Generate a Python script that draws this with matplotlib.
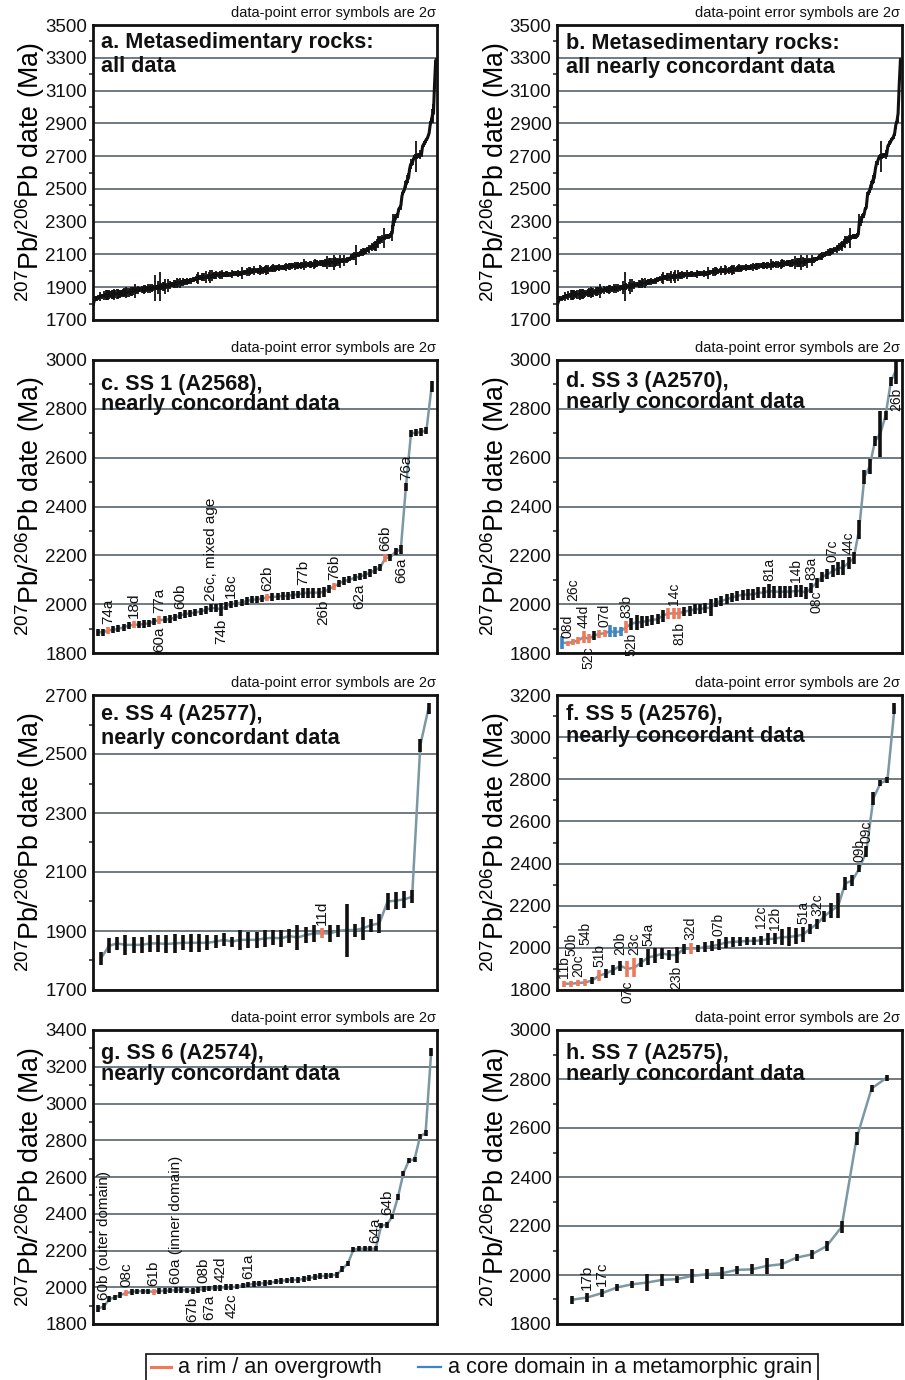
import numpy as np
import matplotlib
matplotlib.use("Agg")
import matplotlib.pyplot as plt
from matplotlib.patches import Rectangle
from matplotlib.ticker import FixedLocator

plt.rcParams.update({
    "font.family": ["Liberation Sans", "DejaVu Sans"],
    "mathtext.fontset": "custom",
    "mathtext.rm": "Liberation Sans",
    "mathtext.it": "Liberation Sans:italic",
    "mathtext.bf": "Liberation Sans:bold",
})

# -----------------------------
# Palette
# -----------------------------
INK = "#111111"
RIM = "#F2785A"
CORE = "#3D85C6"
LINK = "#7B98A3"
GRID = "#56646D"

# -----------------------------
# Data: ranked 207Pb/206Pb dates (Ma) and 2-sigma half-widths
# -----------------------------
# SS 1 (A2568)
ss1_dates = [1885, 1885, 1892, 1895, 1899, 1905, 1912, 1916, 1916, 1919,
             1922, 1930, 1935, 1936, 1939, 1945, 1953, 1960, 1962, 1966,
             1970, 1976, 1984, 1984, 1978, 1993, 2000, 2003, 2007, 2013,
             2018, 2020, 2023, 2027, 2030, 2031, 2034, 2034, 2038, 2040,
             2045, 2047, 2047, 2047, 2050, 2062, 2072, 2085, 2095, 2100,
             2108, 2113, 2120, 2128, 2140, 2150, 2189, 2192, 2216, 2223,
             2480, 2700, 2702, 2705, 2712, 2890]
ss1_errs = [15, 15, 15, 15, 15, 15, 15, 15, 15, 15,
            15, 15, 15, 15, 15, 15, 15, 15, 15, 15,
            15, 15, 15, 15, 25, 15, 15, 15, 15, 15,
            15, 15, 15, 15, 15, 15, 15, 15, 15, 15,
            20, 20, 20, 20, 20, 15, 15, 15, 15, 15,
            15, 15, 15, 15, 15, 15, 18, 15, 15, 18,
            15, 15, 15, 15, 15, 22]
ss1_rims = [2, 7, 12, 33, 46, 56]
ss1_cores = []
ss1_labels = [(2, "74a", "up"), (7, "18d", "up"), (12, "77a", "up"), (12, "60a", "down"),
              (16, "60b", "up"), (22, "26c, mixed age", "up"), (24, "74b", "down"),
              (26, "18c", "up"), (33, "62b", "up"), (40, "77b", "up"), (44, "26b", "down"),
              (46, "76b", "up"), (51, "62a", "down"), (56, "66b", "up"), (59, "66a", "down"),
              (60, "76a", "up")]

# SS 3 (A2570)
ss3_dates = [1843, 1840, 1845, 1851, 1865, 1858, 1872, 1878, 1881, 1889,
             1885, 1889, 1905, 1919, 1926, 1926, 1932, 1935, 1939, 1953,
             1962, 1962, 1962, 1970, 1973, 1980, 1980, 1984, 1986, 2007,
             2013, 2020, 2027, 2034, 2038, 2040, 2040, 2047, 2047, 2054,
             2051, 2051, 2051, 2051, 2054, 2054, 2047, 2067, 2088, 2111,
             2122, 2135, 2146, 2151, 2169, 2189, 2306, 2521, 2565, 2668,
             2698, 2773, 2913, 2960]
ss3_errs = [25, 10, 12, 15, 25, 18, 20, 15, 15, 25,
            20, 18, 25, 25, 30, 25, 20, 20, 20, 25,
            22, 22, 22, 20, 20, 20, 20, 22, 35, 20,
            20, 20, 20, 20, 22, 22, 22, 22, 22, 30,
            25, 25, 25, 25, 25, 25, 25, 20, 20, 20,
            20, 25, 25, 30, 25, 25, 40, 30, 30, 20,
            95, 20, 18, 60]
ss3_rims = [1, 2, 3, 4, 5, 7, 8, 12, 20, 21, 22]
ss3_cores = [0, 9, 10, 11]
ss3_labels = [(1, "08d", "up"), (2, "26c", "up"), (4, "44d", "up"), (5, "52c", "down"),
              (8, "07d", "up"), (12, "83b", "up"), (13, "52b", "down"), (21, "14c", "up"),
              (22, "81b", "down"), (39, "81a", "up"), (44, "14b", "up"), (47, "83a", "up"),
              (48, "08c", "down"), (51, "07c", "up"), (54, "44c", "up"), (63, "26b", "down")]

# SS 4 (A2577)
ss4_dates = [1807, 1850, 1858, 1853, 1853, 1853, 1858, 1858, 1856, 1858,
             1860, 1860, 1860, 1860, 1864, 1870, 1864, 1870, 1870, 1870,
             1875, 1877, 1875, 1883, 1878, 1886, 1892, 1892, 1892, 1901,
             1903, 1903, 1909, 1920, 1926, 2000, 2003, 2007, 2016, 2530,
             2655]
ss4_errs = [22, 25, 22, 33, 28, 28, 28, 28, 30, 33,
            25, 30, 30, 25, 22, 22, 17, 33, 28, 28,
            28, 25, 28, 25, 42, 28, 28, 17, 28, 20,
            90, 22, 40, 22, 33, 28, 30, 30, 22, 22,
            18]
ss4_rims = [27]
ss4_cores = []
ss4_labels = [(27, "11d", "up")]

# SS 5 (A2576)
ss5_dates = [1830, 1830, 1833, 1836, 1845, 1868, 1879, 1895, 1915, 1900,
             1906, 1931, 1955, 1962, 1973, 1966, 1966, 1994, 1997, 1997,
             2003, 2008, 2015, 2025, 2028, 2030, 2033, 2033, 2035, 2041,
             2044, 2050, 2052, 2056, 2063, 2090, 2114, 2150, 2176, 2200,
             2306, 2319, 2377, 2457, 2710, 2781, 2797, 3137]
ss5_errs = [15, 15, 15, 15, 15, 25, 22, 22, 25, 40,
            45, 20, 38, 35, 25, 25, 38, 25, 25, 18,
            25, 25, 25, 25, 22, 20, 20, 20, 20, 28,
            28, 38, 45, 40, 35, 25, 25, 25, 35, 60,
            30, 25, 15, 25, 30, 15, 15, 25]
ss5_rims = [0, 1, 2, 3, 5, 9, 10, 18]
ss5_cores = []
ss5_labels = [(0, "11b", "up"), (1, "50b", "up"), (2, "20c", "up"), (3, "54b", "up"),
              (5, "51b", "up"), (8, "20b", "up"), (9, "07c", "down"), (10, "23c", "up"),
              (12, "54a", "up"), (16, "23b", "down"), (18, "32d", "up"), (22, "07b", "up"),
              (28, "12c", "up"), (30, "12b", "up"), (34, "51a", "up"), (36, "32c", "up"),
              (42, "09b", "up"), (43, "09c", "up")]

# SS 6 (A2574)
ss6_dates = [1885, 1895, 1935, 1945, 1958, 1968, 1975, 1978, 1978, 1978,
             1975, 1980, 1980, 1982, 1985, 1985, 1982, 1980, 1985, 1990,
             1992, 1995, 1997, 2000, 2000, 2003, 2010, 2015, 2017, 2020,
             2022, 2025, 2030, 2035, 2038, 2040, 2040, 2045, 2050, 2055,
             2060, 2062, 2065, 2068, 2100, 2130, 2205, 2210, 2210, 2210,
             2210, 2335, 2340, 2385, 2490, 2620, 2690, 2695, 2820, 2840,
             3280]
ss6_errs = [18, 18, 15, 15, 15, 15, 15, 15, 15, 15,
            18, 15, 15, 15, 15, 15, 15, 15, 15, 15,
            15, 15, 15, 15, 15, 15, 15, 15, 15, 15,
            15, 15, 15, 15, 15, 15, 15, 15, 15, 15,
            15, 15, 15, 15, 15, 15, 15, 15, 15, 15,
            15, 15, 15, 15, 15, 15, 15, 15, 15, 15,
            20]
ss6_rims = [5, 10]
ss6_cores = []
ss6_labels = [(1, "60b (outer domain)", "up"), (5, "08c", "up"), (10, "61b", "up"),
              (14, "60a (inner domain)", "up"), (17, "67b", "down"), (19, "08b", "up"),
              (20, "67a", "down"), (22, "42d", "up"), (24, "42c", "down"), (27, "61a", "up"),
              (50, "64a", "up"), (52, "64b", "up")]

# SS 7 (A2575)
ss7_dates = [1899, 1908, 1926, 1949, 1962, 1969, 1980, 1983, 1996, 2003,
             2007, 2021, 2023, 2037, 2044, 2071, 2084, 2118, 2196, 2558,
             2761, 2805]
ss7_errs = [16, 20, 17, 14, 14, 34, 24, 14, 27, 20,
            24, 17, 20, 34, 20, 14, 20, 20, 24, 27,
            14, 12]
ss7_rims = []
ss7_cores = []
ss7_labels = [(1, "17b", "up"), (2, "17c", "up")]

# discordant analyses that appear only in panel a
disc_dates = [1860, 1895, 1905, 1930, 1975, 2000, 2030, 2055, 2095, 2150,
              2230, 2400, 2650, 2950]
disc_errs = [25, 80, 25, 25, 25, 20, 25, 25, 60, 30,
             50, 30, 30, 40]

# -----------------------------
# Pooled sets for panels a and b
# -----------------------------
pool_dates = np.concatenate([ss1_dates, ss3_dates, ss4_dates, ss5_dates, ss6_dates, ss7_dates])
pool_errs = np.concatenate([ss1_errs, ss3_errs, ss4_errs, ss5_errs, ss6_errs, ss7_errs])
order = np.argsort(pool_dates, kind="stable")
conc_dates, conc_errs = pool_dates[order], pool_errs[order]

all_dates = np.concatenate([pool_dates, disc_dates])
all_errs = np.concatenate([pool_errs, disc_errs])
order = np.argsort(all_dates, kind="stable")
all_dates, all_errs = all_dates[order], all_errs[order]

# label stagger (Ma) where sample labels crowd each other
NUDGE = {("d", "26c"): 145,
         ("f", "50b"): 100, ("f", "54b"): 150, ("f", "20b"): 10,
         ("f", "12c"): 25, ("g", "64b"): 20}

# -----------------------------
# Figure
# -----------------------------
W, H = 905, 1380
fig = plt.figure(figsize=(W / 100, H / 100), dpi=100, facecolor="white")

def px_axes(x0, y_top, x1, y_bot):
    return fig.add_axes([x0 / W, 1 - y_bot / H, (x1 - x0) / W, (y_bot - y_top) / H])

LEFT_X = (92.7, 436.7)
RIGHT_X = (557.0, 901.5)
ROWS = [(25, 320), (360, 653), (695, 990), (1030, 1324)]

YLABEL = r"$^{207}$Pb/$^{206}$Pb date (Ma)"


def setup_axes(ax, ylo, yhi, col):
    ax.set_ylim(ylo, yhi)
    ax.yaxis.set_major_locator(FixedLocator(np.arange(ylo, yhi + 1, 200)))
    ax.yaxis.set_minor_locator(FixedLocator(np.arange(ylo + 100, yhi, 200)))
    ax.tick_params(axis="y", which="major", labelsize=13.5, length=0, pad=4, colors=INK)
    ax.tick_params(axis="y", which="minor", length=3, width=1.2, direction="out", color="#333333")
    ax.tick_params(axis="x", which="both", bottom=False, labelbottom=False)
    for s in ax.spines.values():
        s.set_linewidth(2.0)
        s.set_color(INK)
    ax.grid(axis="y", which="major", color=GRID, lw=1.2, zorder=0)
    ax.set_axisbelow(True)
    ax.set_ylabel(YLABEL, fontsize=19.3)
    ax.yaxis.set_label_coords(-0.133 if col == 0 else -0.13, 0.5)
    ax.text(0.997, 1.016, "data-point error symbols are 2\u03c3", transform=ax.transAxes,
            ha="right", va="bottom", fontsize=10.5, color=INK)


def draw_sample(ax, key, dates, errs, rims, cores, labels, lab_fs=11):
    dates = np.asarray(dates, float)
    errs = np.asarray(errs, float)
    x = np.arange(len(dates))
    ax.set_xlim(-1, len(dates))
    cols = [INK] * len(dates)
    for i in rims:
        cols[i] = RIM
    for i in cores:
        cols[i] = CORE
    ax.plot(x, dates, color=LINK, lw=1.8, zorder=2)
    ax.vlines(x, dates - errs, dates + errs, colors=cols, lw=2.6, zorder=3)
    ylo, yhi = ax.get_ylim()
    pad = 0.01 * (yhi - ylo)
    for i, txt, side in labels:
        extra = NUDGE.get((key, txt), 0)
        if side == "up":
            ax.text(x[i], dates[i] + errs[i] + pad + extra, txt, rotation=90, ha="center",
                    va="bottom", fontsize=lab_fs, color=INK, zorder=4)
        else:
            ax.text(x[i], dates[i] - errs[i] - pad - extra, txt, rotation=90, ha="center",
                    va="top", fontsize=lab_fs, color=INK, zorder=4, clip_on=False)


def draw_pool(ax, dates, errs):
    x = np.arange(len(dates))
    ax.set_xlim(-1, len(dates))
    ax.vlines(x, dates - errs, dates + errs, colors=INK, lw=1.3, zorder=3)
    ax.plot(x, dates, color=INK, lw=2.2, zorder=3)


def title(ax, txt, y, spacing):
    ax.text(0.025, y, txt, transform=ax.transAxes, ha="left", va="top",
            fontsize=15.6, fontweight="bold", color=INK, linespacing=spacing, zorder=5)


# Row 1
ax_a = px_axes(LEFT_X[0], ROWS[0][0], LEFT_X[1], ROWS[0][1])
setup_axes(ax_a, 1700, 3500, 0)
draw_pool(ax_a, all_dates, all_errs)
title(ax_a, "a. Metasedimentary rocks:\nall data", 0.975, 1.15)

ax_b = px_axes(RIGHT_X[0], ROWS[0][0], RIGHT_X[1], ROWS[0][1])
setup_axes(ax_b, 1700, 3500, 1)
draw_pool(ax_b, conc_dates, conc_errs)
title(ax_b, "b. Metasedimentary rocks:\nall nearly concordant data", 0.972, 1.15)

# Row 2
ax_c = px_axes(LEFT_X[0], ROWS[1][0], LEFT_X[1], ROWS[1][1])
setup_axes(ax_c, 1800, 3000, 0)
draw_sample(ax_c, "c", ss1_dates, ss1_errs, ss1_rims, ss1_cores, ss1_labels)
title(ax_c, "c. SS 1 (A2568),\nnearly concordant data", 0.952, 0.95)

ax_d = px_axes(RIGHT_X[0], ROWS[1][0], RIGHT_X[1], ROWS[1][1])
setup_axes(ax_d, 1800, 3000, 1)
draw_sample(ax_d, "d", ss3_dates, ss3_errs, ss3_rims, ss3_cores, ss3_labels, lab_fs=10)
title(ax_d, "d. SS 3 (A2570),\nnearly concordant data", 0.962, 1.0)

# Row 3
ax_e = px_axes(LEFT_X[0], ROWS[2][0], LEFT_X[1], ROWS[2][1])
setup_axes(ax_e, 1700, 2700, 0)
draw_sample(ax_e, "e", ss4_dates, ss4_errs, ss4_rims, ss4_cores, ss4_labels)
title(ax_e, "e. SS 4 (A2577),\nnearly concordant data", 0.969, 1.15)

ax_f = px_axes(RIGHT_X[0], ROWS[2][0], RIGHT_X[1], ROWS[2][1])
setup_axes(ax_f, 1800, 3200, 1)
draw_sample(ax_f, "f", ss5_dates, ss5_errs, ss5_rims, ss5_cores, ss5_labels, lab_fs=10)
title(ax_f, "f. SS 5 (A2576),\nnearly concordant data", 0.968, 1.05)

# Row 4
ax_g = px_axes(LEFT_X[0], ROWS[3][0], LEFT_X[1], ROWS[3][1])
setup_axes(ax_g, 1800, 3400, 0)
draw_sample(ax_g, "g", ss6_dates, ss6_errs, ss6_rims, ss6_cores, ss6_labels)
title(ax_g, "g. SS 6 (A2574),\nnearly concordant data", 0.956, 1.0)

ax_h = px_axes(RIGHT_X[0], ROWS[3][0], RIGHT_X[1], ROWS[3][1])
setup_axes(ax_h, 1800, 3000, 1)
draw_sample(ax_h, "h", ss7_dates, ss7_errs, ss7_rims, ss7_cores, ss7_labels)
title(ax_h, "h. SS 7 (A2575),\nnearly concordant data", 0.956, 1.0)

# -----------------------------
# Legend strip at the bottom
# -----------------------------
fig.add_artist(Rectangle((146 / W, -0.01), (818 - 146) / W, 0.01 + (1380 - 1354) / H,
                         transform=fig.transFigure, fill=False, ec=INK, lw=1.2))
ly = 1 - 1367 / H
fig.add_artist(plt.Line2D([151 / W, 171 / W], [ly, ly], transform=fig.transFigure,
                          color=RIM, lw=2.2))
fig.text(178 / W, ly, "a rim / an overgrowth", ha="left", va="center", fontsize=15.7,
         color=INK)
fig.add_artist(plt.Line2D([418 / W, 441 / W], [ly, ly], transform=fig.transFigure,
                          color=CORE, lw=1.6))
fig.text(448 / W, ly, "a core domain in a metamorphic grain", ha="left", va="center",
         fontsize=15.7, color=INK)

fig.savefig("out.png", dpi=100, facecolor="white")
plt.close(fig)
